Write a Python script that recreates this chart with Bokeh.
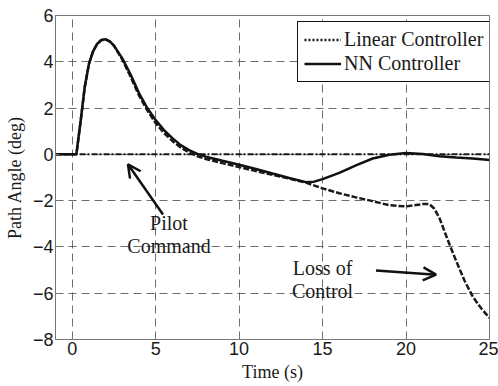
from bokeh.plotting import figure
from bokeh.models import (Legend, LegendItem, Label, Arrow, OpenHead, FixedTicker,
                          Range1d)
from bokeh.embed import file_html
from bokeh.resources import INLINE

# ---- data ----
t_nn = [-1, 0, 0.25, 0.5, 0.75, 1.0, 1.25, 1.5, 1.75, 2.0, 2.25, 2.5, 3.0, 3.5, 4.0,
        4.5, 5.0, 5.5, 6.0, 6.5, 7.0, 7.5, 8, 9, 10, 11, 12, 13, 14, 14.5, 15, 16, 17,
        18, 19, 20, 21, 22, 23, 24, 25]
nn = [0, 0, 0, 1.4, 2.9, 3.9, 4.45, 4.78, 4.94, 4.97, 4.88, 4.7, 4.15, 3.45, 2.65,
      2.0, 1.48, 1.05, 0.7, 0.4, 0.18, 0.02, -0.1, -0.28, -0.45, -0.63, -0.83, -1.02,
      -1.2, -1.18, -1.07, -0.8, -0.48, -0.18, -0.02, 0.06, 0.02, -0.08, -0.14, -0.18, -0.24]

t_lin = [-1, 0, 0.25, 0.5, 0.75, 1.0, 1.25, 1.5, 1.75, 2.0, 2.25, 2.5, 3.0, 3.5, 4.0,
         4.5, 5.0, 5.5, 6.0, 6.5, 7.0, 7.5, 8, 9, 10, 11, 12, 13, 14, 15, 16, 17, 18,
         19, 20, 20.5, 21, 21.4, 21.7, 22, 22.5, 23, 23.5, 24, 24.5, 25]
lin = [0, 0, 0, 1.4, 2.9, 3.9, 4.45, 4.78, 4.94, 4.97, 4.88, 4.7, 4.1, 3.35, 2.55,
       1.9, 1.35, 0.92, 0.58, 0.3, 0.08, -0.08, -0.2, -0.38, -0.55, -0.72, -0.88, -1.05,
       -1.22, -1.47, -1.68, -1.86, -2.02, -2.2, -2.25, -2.2, -2.15, -2.15, -2.35, -2.75,
       -3.7, -4.6, -5.45, -6.15, -6.65, -7.07]

t_cmd = [-1, 25]
cmd = [0, 0]

x_ticks = [0, 5, 10, 15, 20, 25]
y_ticks = [-8, -6, -4, -2, 0, 2, 4, 6]

legend_labels = ["Linear Controller", "NN Controller"]

NAN = float("nan")

# ---- figure ----
p = figure(width=498, height=386, x_range=Range1d(-1, 25), y_range=Range1d(-8, 6),
           output_backend="svg", toolbar_location=None,
           min_border_left=55, min_border_right=9, min_border_top=15, min_border_bottom=47)
p.background_fill_color = "white"
p.border_fill_color = "white"
p.outline_line_color = "#777777"
p.outline_line_width = 1

for ax in (p.xaxis, p.yaxis):
    ax.axis_line_color = "#777777"
    ax.major_tick_line_color = "#777777"
    ax.major_tick_in = 4
    ax.major_tick_out = 0
    ax.minor_tick_line_color = None
    ax.major_label_text_font = "Liberation Sans"
    ax.major_label_text_font_size = "18px"
    ax.major_label_text_color = "#1a1a1a"
    ax.axis_label_text_font = "Liberation Serif"
    ax.axis_label_text_font_size = "18px"
    ax.axis_label_text_font_style = "normal"
    ax.axis_label_text_color = "#1a1a1a"

p.xaxis.ticker = FixedTicker(ticks=x_ticks)
p.yaxis.ticker = FixedTicker(ticks=y_ticks)
p.xaxis.axis_label = "Time (s)"
p.yaxis.axis_label = "Path Angle (deg)"
p.xaxis.major_label_standoff = 2
p.yaxis.major_label_standoff = 2
p.xaxis.axis_label_standoff = 4
p.yaxis.axis_label_standoff = 5

for g in (p.xgrid, p.ygrid):
    g.grid_line_color = "#555555"
    g.grid_line_dash = "8 5"
    g.grid_line_width = 1
    g.grid_line_alpha = 0.85
p.xgrid.ticker = FixedTicker(ticks=x_ticks)
p.ygrid.ticker = FixedTicker(ticks=y_ticks)

# pilot command
p.line(t_cmd, cmd, line_color="#1a1a1a", line_width=2, line_dash="6 2 2 2")
# linear controller
r_lin = p.line(t_lin, lin, line_color="#1a1a1a", line_width=2.5, line_dash="6 2")
# NN controller
r_nn = p.line(t_nn, nn, line_color="#111111", line_width=2.5)

# legend-only renderers (no visible data)
leg_lin = p.line([NAN], [NAN], line_color="#111111", line_width=2.5, line_dash="2 2")
leg_nn = p.line([NAN], [NAN], line_color="#111111", line_width=2.5)

legend = Legend(items=[LegendItem(label=legend_labels[0], renderers=[leg_lin]),
                       LegendItem(label=legend_labels[1], renderers=[leg_nn])],
                location=(242, 257))
legend.label_text_font = "Liberation Serif"
legend.label_text_font_size = "20px"
legend.label_text_color = "#1a1a1a"
legend.border_line_color = "#111111"
legend.border_line_width = 1.5
legend.border_line_alpha = 1
legend.background_fill_alpha = 1
legend.glyph_width = 37
legend.glyph_height = 21
legend.label_height = 21
legend.label_standoff = 3
legend.spacing = 1
legend.padding = 6
legend.margin = 0
p.add_layout(legend)

# annotations
def lab(x, y, t):
    p.add_layout(Label(x=x, y=y, text=t, text_align="center", text_baseline="middle",
                       text_font="Liberation Serif", text_font_size="20px",
                       text_color="#1a1a1a"))

lab(5.8, -2.96, "Pilot")
lab(5.8, -3.97, "Command")
lab(15.0, -4.9, "Loss of")
lab(15.0, -5.89, "Control")

p.add_layout(Arrow(x_start=5.44, y_start=-2.6, x_end=3.34, y_end=-0.43,
                   line_width=2.5, line_color="#111111",
                   end=OpenHead(size=13, line_width=2.5, line_color="#111111")))
p.add_layout(Arrow(x_start=18.2, y_start=-5.02, x_end=21.8, y_end=-5.2,
                   line_width=2.5, line_color="#111111",
                   end=OpenHead(size=13, line_width=2.5, line_color="#111111")))

open("out.html", "w").write(file_html(p, INLINE))
